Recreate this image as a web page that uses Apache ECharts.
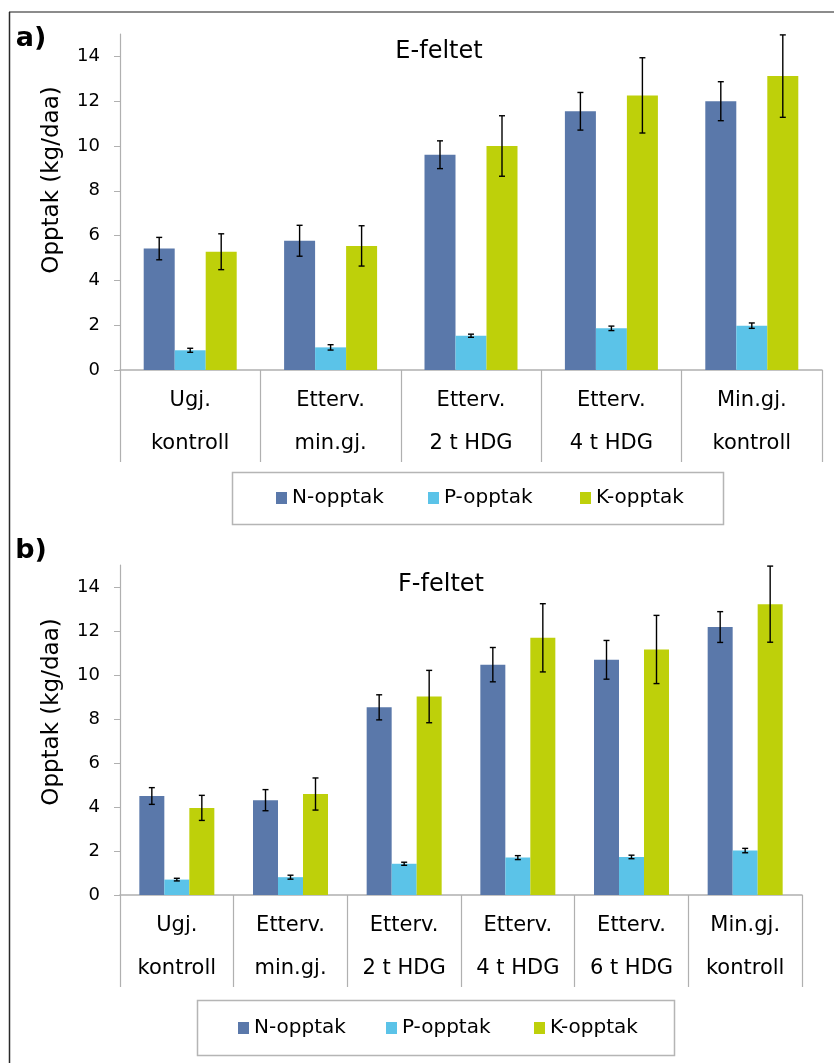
<!DOCTYPE html>
<html><head><meta charset="utf-8">
<script src="https://cdn.jsdelivr.net/npm/echarts@6/dist/echarts.min.js"></script>
<style>html,body{margin:0;padding:0;background:#fff}#c{width:834px;height:1063px}</style>
</head><body><div id="c"></div>
<script>
// ---- data ----
const seriesNames = ['N-opptak', 'P-opptak', 'K-opptak'];
const yTicks = [0, 2, 4, 6, 8, 10, 12, 14];

const categoriesA = ['Ugj.\nkontroll', 'Etterv.\nmin.gj.', 'Etterv.\n2 t HDG', 'Etterv.\n4 t HDG', 'Min.gj.\nkontroll'];
const nA = [5.42, 5.77, 9.61, 11.55, 12.00];
const nAerr = [0.50, 0.69, 0.62, 0.84, 0.87];
const pA = [0.88, 1.01, 1.53, 1.86, 1.98];
const pAerr = [0.09, 0.12, 0.07, 0.10, 0.12];
const kA = [5.28, 5.54, 10.00, 12.26, 13.12];
const kAerr = [0.80, 0.90, 1.35, 1.68, 1.84];

const categoriesB = ['Ugj.\nkontroll', 'Etterv.\nmin.gj.', 'Etterv.\n2 t HDG', 'Etterv.\n4 t HDG', 'Etterv.\n6 t HDG', 'Min.gj.\nkontroll'];
const nB = [4.50, 4.31, 8.53, 10.47, 10.69, 12.18];
const nBerr = [0.38, 0.48, 0.57, 0.78, 0.88, 0.70];
const pB = [0.70, 0.81, 1.42, 1.70, 1.73, 2.02];
const pBerr = [0.06, 0.09, 0.07, 0.09, 0.08, 0.10];
const kB = [3.96, 4.59, 9.02, 11.69, 11.16, 13.22];
const kBerr = [0.57, 0.73, 1.19, 1.55, 1.55, 1.73];

// ---- style ----
const FONT = 'DejaVu Sans';
const colors = ['#5a78aa', '#5bc3e8', '#bed00a'];
const axisGray = '#b0b0b0';

function errSeries(vals, errs, idx, grid, bw) {
  return {
    type: 'custom', xAxisIndex: grid, yAxisIndex: grid, z: 5, silent: true,
    data: vals.map((v, i) => [i, v, errs[i]]),
    encode: { x: 0, y: 1 },
    renderItem: function (params, api) {
      const c = api.value(0), v = api.value(1), e = api.value(2);
      const x = api.coord([c, 0])[0] + (idx - 1) * bw;
      const hi = api.coord([c, v + e])[1];
      const lo = api.coord([c, v - e])[1];
      const cap = 3;
      const st = { stroke: '#000', lineWidth: 1.4 };
      return { type: 'group', children: [
        { type: 'line', shape: { x1: x, y1: hi, x2: x, y2: lo }, style: st },
        { type: 'line', shape: { x1: x - cap, y1: hi, x2: x + cap, y2: hi }, style: st },
        { type: 'line', shape: { x1: x - cap, y1: lo, x2: x + cap, y2: lo }, style: st }
      ]};
    }
  };
}

function barSeries(vals, idx, grid, bw) {
  return {
    type: 'bar', name: seriesNames[idx], xAxisIndex: grid, yAxisIndex: grid,
    data: vals, barWidth: bw, barGap: '0%',
    itemStyle: { color: colors[idx] }
  };
}

function xAxis(cats, grid, tickLen) {
  return {
    type: 'category', gridIndex: grid, data: cats,
    axisLine: { show: true, lineStyle: { color: axisGray, width: 1.5 } },
    axisTick: { show: true, length: tickLen, lineStyle: { color: axisGray, width: 1.2 } },
    axisLabel: { interval: 0, margin: 9, lineHeight: 43, fontSize: 21, fontFamily: FONT, color: '#000' },
    splitLine: { show: false }
  };
}
function yAxis(grid) {
  return {
    type: 'value', gridIndex: grid, min: 0, max: 15, interval: 1,
    axisLine: { show: true, lineStyle: { color: axisGray, width: 1.2 } },
    axisTick: { show: true, length: 6, customValues: yTicks, lineStyle: { color: axisGray } },
    axisLabel: { customValues: yTicks, margin: 20, fontSize: 18, fontFamily: FONT, color: '#000' },
    splitLine: { show: false }
  };
}
function legendItem(name, left, top) {
  return {
    data: [name], left: left, top: top, padding: 0, itemGap: 0,
    itemWidth: 11, itemHeight: 12, icon: 'rect', selectedMode: false,
    textStyle: { fontSize: 20, fontFamily: FONT, color: '#000' }
  };
}
function txt(text, x, y, size, extra, weight) {
  return Object.assign({
    type: 'text', x: x, y: y,
    style: { text: text, fontSize: size, fontFamily: FONT, fill: '#000', fontWeight: weight || 'normal',
             align: 'center', verticalAlign: 'middle', textAlign: 'center', textVerticalAlign: 'middle' }
  }, extra || {});
}

const chart = echarts.init(document.getElementById('c'), null, { renderer: 'canvas' });
chart.setOption({
  animation: false,
  backgroundColor: '#fff',
  grid: [
    { left: 120, top: 34, width: 702, height: 336, outerBoundsMode: 'none' },
    { left: 120, top: 565, width: 682, height: 330, outerBoundsMode: 'none' }
  ],
  xAxis: [xAxis(categoriesA, 0, 92), xAxis(categoriesB, 1, 92)],
  yAxis: [yAxis(0), yAxis(1)],
  legend: [
    legendItem(seriesNames[0], 276, 488), legendItem(seriesNames[1], 428, 488), legendItem(seriesNames[2], 580, 488),
    legendItem(seriesNames[0], 238, 1018), legendItem(seriesNames[1], 386, 1018), legendItem(seriesNames[2], 534, 1018)
  ],
  graphic: [
    { type: 'line', shape: { x1: 9, y1: 12, x2: 834, y2: 12 }, style: { stroke: '#8c8c8c', lineWidth: 2 } },
    { type: 'line', shape: { x1: 9.5, y1: 12, x2: 9.5, y2: 1063 }, style: { stroke: '#2a2a2a', lineWidth: 1.5 } },
    { type: 'rect', shape: { x: 232.5, y: 472.5, width: 491, height: 52 }, style: { fill: 'none', stroke: '#b5b5b5', lineWidth: 1.5 } },
    { type: 'rect', shape: { x: 197.5, y: 1000.5, width: 477, height: 55 }, style: { fill: 'none', stroke: '#b5b5b5', lineWidth: 1.5 } },
    txt('a)', 31, 39, 27, {}, 'bold'),
    txt('b)', 31, 551, 27, {}, 'bold'),
    txt('E-feltet', 439, 52, 24),
    txt('F-feltet', 441, 585, 24),
    txt('Opptak (kg/daa)', 52, 180, 23, { rotation: Math.PI / 2 }),
    txt('Opptak (kg/daa)', 52, 712, 23, { rotation: Math.PI / 2 })
  ],
  series: [
    barSeries(nA, 0, 0, 31), barSeries(pA, 1, 0, 31), barSeries(kA, 2, 0, 31),
    errSeries(nA, nAerr, 0, 0, 31), errSeries(pA, pAerr, 1, 0, 31), errSeries(kA, kAerr, 2, 0, 31),
    barSeries(nB, 0, 1, 25), barSeries(pB, 1, 1, 25), barSeries(kB, 2, 1, 25),
    errSeries(nB, nBerr, 0, 1, 25), errSeries(pB, pBerr, 1, 1, 25), errSeries(kB, kBerr, 2, 1, 25)
  ]
});
</script></body></html>
